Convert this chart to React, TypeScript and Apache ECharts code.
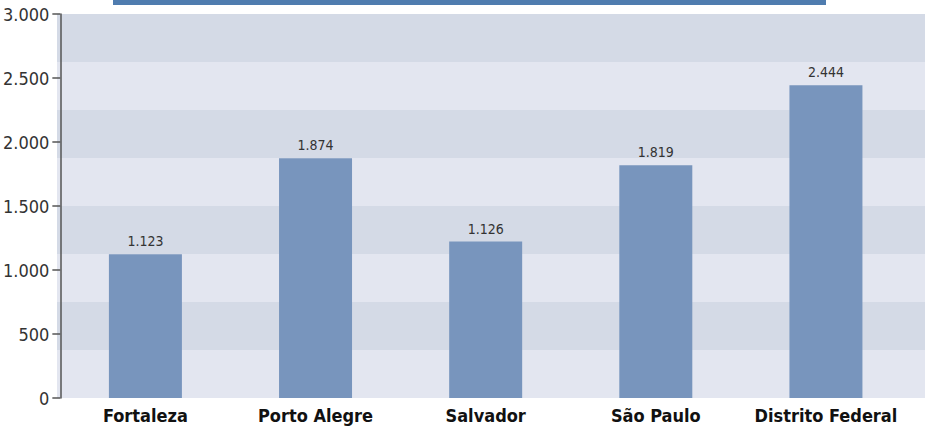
import React, { useEffect, useRef } from "react";
import * as echarts from "echarts";

const categories = ["Fortaleza", "Porto Alegre", "Salvador", "São Paulo", "Distrito Federal"];
const barValues = [1123, 1874, 1222, 1819, 2444];
const barLabels = ["1.123", "1.874", "1.126", "1.819", "2.444"];
const yTicks = [0, 500, 1000, 1500, 2000, 2500, 3000];

const fmt = (v: number) => (v >= 1000 ? `${Math.floor(v / 1000)}.${String(v % 1000).padStart(3, "0")}` : String(v));
const FONT = "'DejaVu Sans Condensed', Roboto, sans-serif";

export default function App() {
  const ref = useRef<HTMLDivElement>(null);
  useEffect(() => {
    const chart = echarts.init(ref.current!, null, { renderer: "svg" });
    chart.setOption({
      animation: false,
      grid: [
        { left: 57, right: 0, top: 14, bottom: 30 },
        { left: 57, right: 14, top: 14, bottom: 30 },
      ],
      graphic: [
        { type: "rect", shape: { x: 113, y: 0, width: 713, height: 5 }, style: { fill: "#4f7caf" } },
      ],
      xAxis: [
        { type: "value", gridIndex: 0, show: false, min: 0, max: 1 },
        {
          type: "category",
          gridIndex: 1,
          data: categories,
          axisLine: { show: false },
          axisTick: { show: false },
          axisLabel: {
            interval: 0,
            fontFamily: FONT,
            fontWeight: "bold",
            fontSize: 18,
            color: "#111",
            margin: 8,
          },
        },
      ],
      yAxis: [
        {
          type: "value",
          gridIndex: 0,
          min: 0,
          max: 3000,
          interval: 375,
          axisLine: { show: false },
          axisTick: { show: false },
          axisLabel: { show: false },
          splitLine: { show: false },
          splitArea: { show: true, areaStyle: { color: ["#e3e6f0", "#d4dae6"] } },
        },
        {
          type: "value",
          gridIndex: 1,
          min: 0,
          max: yTicks[yTicks.length - 1],
          interval: 500,
          axisLine: { show: true, lineStyle: { color: "#555", width: 1.5 } },
          axisTick: { show: true, length: 8, lineStyle: { color: "#555", width: 1.5 } },
          splitLine: { show: false },
          axisLabel: {
            fontFamily: FONT,
            fontSize: 18,
            color: "#333",
            margin: 11,
            formatter: (v: number) => fmt(v),
          },
        },
      ],
      series: [
        {
          type: "bar",
          xAxisIndex: 1,
          yAxisIndex: 1,
          data: barValues,
          barWidth: 73,
          itemStyle: { color: "#7895bd" },
          label: {
            show: true,
            position: "top",
            distance: 6,
            fontFamily: FONT,
            fontSize: 14,
            color: "#333",
            formatter: (p: any) => barLabels[p.dataIndex],
          },
        },
      ],
    });
    return () => chart.dispose();
  }, []);
  return <div ref={ref} style={{ width: 925, height: 428, position: "absolute", left: 0, top: 0 }} />;
}
